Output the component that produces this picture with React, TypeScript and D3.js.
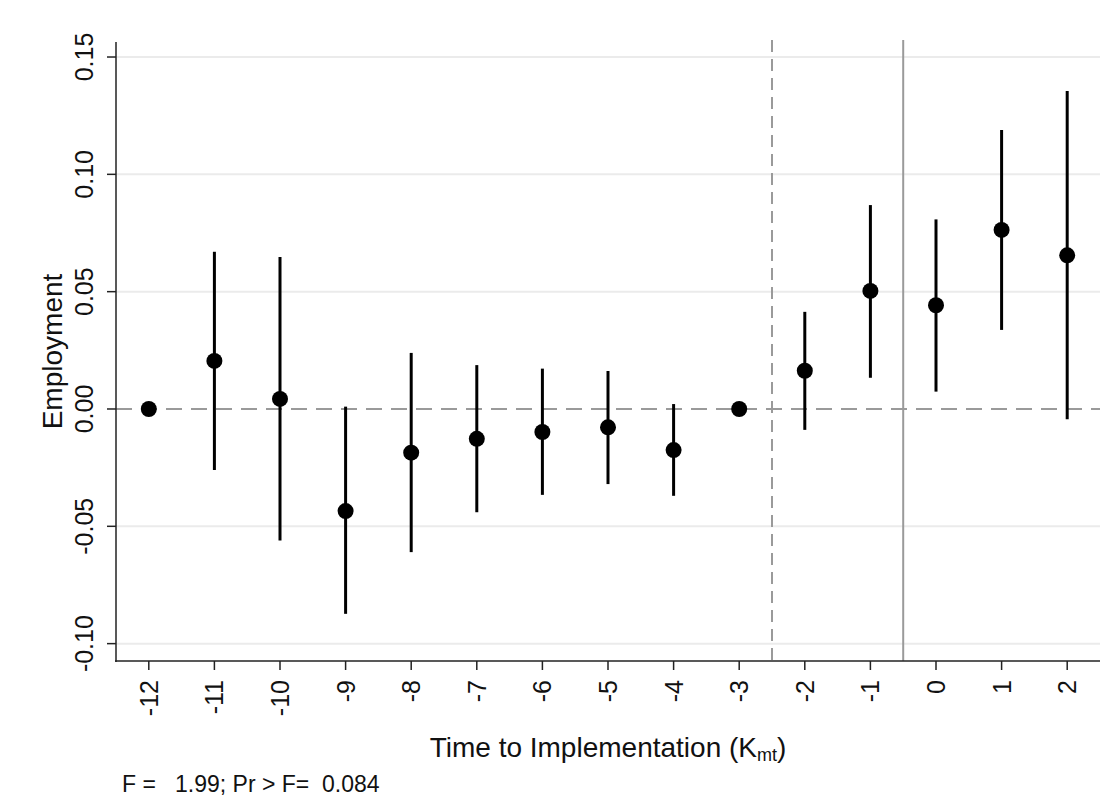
import React from "react";
import * as d3 from "d3";

const periods = [-12, -11, -10, -9, -8, -7, -6, -5, -4, -3, -2, -1, 0, 1, 2];
const estimates = [0, 0.0205, 0.0043, -0.0435, -0.0186, -0.0127, -0.0098, -0.0078, -0.0175, 0, 0.0163, 0.0503, 0.0442, 0.0763, 0.0655];
const ciLow = [null, -0.026, -0.056, -0.0873, -0.061, -0.044, -0.0366, -0.032, -0.037, null, -0.0089, 0.0133, 0.0074, 0.0337, -0.0044];
const ciHigh = [null, 0.067, 0.0648, 0.001, 0.0239, 0.0187, 0.0172, 0.0162, 0.0021, null, 0.0414, 0.0869, 0.0808, 0.1189, 0.1355];
const yTicks = [-0.1, -0.05, 0, 0.05, 0.1, 0.15];
const xTickLabels = periods.map((p) => String(p));
const dashedMarker = -2.5;
const solidMarker = -0.5;
const note = "F =   1.99; Pr > F=  0.084";

const W = 1118;
const H = 812;
const left = 116, right = 1100, top = 42, bottom = 661;
const font = "'Liberation Sans', Arial, sans-serif";

export default function App() {
  const x = d3.scaleLinear().domain([-12.5, 2.5]).range([left, right]);
  const y = d3.scaleLinear().domain([-0.1074, 0.1564]).range([bottom, top]);
  const fmt = (t: number) => t.toFixed(2).replace("\u2212", "-");
  return (
    <svg width={W} height={H} style={{ position: "absolute", left: 0, top: 0, background: "#fff" }} fontFamily={font}>
      <rect x={0} y={0} width={W} height={H} fill="#fff" />
      {yTicks.filter((t) => t !== 0).map((t) => (
        <line key={"g" + t} x1={left} x2={right} y1={y(t)} y2={y(t)} stroke="#ebebeb" strokeWidth={2} />
      ))}
      <line x1={left} x2={right} y1={y(0)} y2={y(0)} stroke="#9a9a9a" strokeWidth={2} strokeDasharray="16,9" />
      <line x1={x(dashedMarker)} x2={x(dashedMarker)} y1={top - 2} y2={bottom} stroke="#9a9a9a" strokeWidth={2} strokeDasharray="12,7" />
      <line x1={x(solidMarker)} x2={x(solidMarker)} y1={top - 2} y2={bottom} stroke="#9a9a9a" strokeWidth={2} />
      {periods.map((p, i) =>
        ciLow[i] !== null ? (
          <line key={"ci" + p} x1={x(p)} x2={x(p)} y1={y(ciLow[i] as number)} y2={y(ciHigh[i] as number)} stroke="#000" strokeWidth={3} />
        ) : null
      )}
      {periods.map((p, i) => (
        <circle key={"pt" + p} cx={x(p)} cy={y(estimates[i])} r={8} fill="#000" />
      ))}
      {/* axes */}
      <line x1={left} x2={left} y1={top} y2={bottom + 1} stroke="#222" strokeWidth={1.5} />
      <line x1={left - 1} x2={right} y1={bottom} y2={bottom} stroke="#222" strokeWidth={1.5} />
      {yTicks.map((t) => (
        <g key={"yt" + t}>
          <line x1={left - 9} x2={left} y1={y(t)} y2={y(t)} stroke="#222" strokeWidth={1.5} />
          <text transform={`translate(${left - 23},${y(t)}) rotate(-90)`} textAnchor="middle" fontSize={25} fill="#111">
            {fmt(t)}
          </text>
        </g>
      ))}
      {periods.map((p, i) => (
        <g key={"xt" + p}>
          <line x1={x(p)} x2={x(p)} y1={bottom} y2={bottom + 9} stroke="#222" strokeWidth={1.5} />
          <text transform={`translate(${x(p) + 9},${bottom + 19}) rotate(-90)`} textAnchor="end" fontSize={25} fill="#111">
            {xTickLabels[i]}
          </text>
        </g>
      ))}
      <text transform={`translate(62,${(top + bottom) / 2}) rotate(-90)`} textAnchor="middle" fontSize={28} fill="#111">
        Employment
      </text>
      <text x={608} y={757} textAnchor="middle" fontSize={28} fill="#111">
        Time to Implementation (K<tspan fontSize={18} dy={4}>mt</tspan><tspan dy={-4}>)</tspan>
      </text>
      <text x={122} y={792} fontSize={23} fill="#111" style={{ whiteSpace: "pre" }}>{note}</text>
    </svg>
  );
}
